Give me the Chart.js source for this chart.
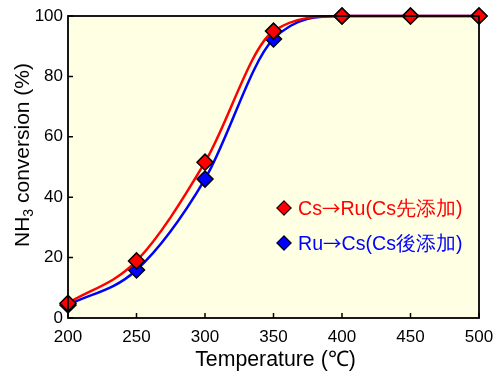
<!DOCTYPE html>
<html><head><meta charset="utf-8">
<script src="https://cdn.jsdelivr.net/npm/chart.js@4.4.0/dist/chart.umd.min.js"></script>
<style>
html,body{margin:0;padding:0;background:#fff;}
#wrap{position:relative;width:497px;height:373px;font-family:"Liberation Sans",Arial,sans-serif;color:#000;}
#c{position:absolute;left:0;top:0;}
.xt{position:absolute;left:70px;width:411px;top:349px;text-align:center;font-size:21.3px;line-height:20px;white-space:nowrap;}
.yt{position:absolute;left:22px;top:155px;transform:translate(-50%,-50%) rotate(-90deg);white-space:nowrap;font-size:21px;line-height:22px;}
.yt sub{font-size:14px;vertical-align:-4px;line-height:0;}
.lgm{position:absolute;width:9px;height:9px;border:1.5px solid #000;transform:translate(-50%,-50%) rotate(45deg);}
.lgt{position:absolute;font-size:19.6px;line-height:22px;white-space:nowrap;}
.ar{font-family:"Noto Sans CJK JP",sans-serif;font-size:18.5px;}
</style>
</head><body>
<div id="wrap">
<canvas id="c" width="497" height="373"></canvas>
<div class="xt">Temperature (℃)</div>
<div class="yt">NH<sub>3</sub> conversion (%)</div>
<div class="lgm" style="left:284px;top:208px;background:#ff0000;"></div>
<div class="lgt" style="left:298px;top:196px;color:#ff0000;">Cs<span class="ar">→</span>Ru(Cs先添加)</div>
<div class="lgm" style="left:284px;top:243px;background:#0000ff;"></div>
<div class="lgt" style="left:298px;top:231px;color:#0000ff;">Ru<span class="ar">→</span>Cs(Cs後添加)</div>
</div>
<script>
const temps = [200, 250, 300, 350, 400, 450, 500];
const csRu = [4.9, 18.9, 51.6, 95, 100, 100, 100];
const ruCs = [4.3, 15.9, 46, 92.4, 100, 100, 100];
const xTicks = [200, 250, 300, 350, 400, 450, 500];
const yTicks = [0, 20, 40, 60, 80, 100];

const toPts = arr => temps.map((t, i) => ({x: t, y: arr[i]}));

const boxPlugin = {
  id: 'box',
  beforeDraw(chart) {
    const {ctx, chartArea: a} = chart;
    ctx.save();
    ctx.fillStyle = '#ffffe4';
    ctx.fillRect(a.left, a.top, a.right - a.left, a.bottom - a.top);
    ctx.restore();
  },
  afterDatasetsDraw(chart) {
    const {ctx, chartArea: a, scales} = chart;
    ctx.save();
    ctx.strokeStyle = '#000';
    ctx.lineWidth = 1.5;
    ctx.beginPath();
    xTicks.forEach(v => {
      const px = scales.x.getPixelForValue(v);
      ctx.moveTo(px, a.bottom); ctx.lineTo(px, a.bottom - 5);
    });
    yTicks.forEach(v => {
      const py = scales.y.getPixelForValue(v);
      ctx.moveTo(a.left, py); ctx.lineTo(a.left + 5, py);
    });
    ctx.stroke();
    ctx.lineWidth = 1.8;
    ctx.strokeRect(a.left, a.top, a.right - a.left, a.bottom - a.top);
    ctx.restore();
  }
};

new Chart(document.getElementById('c'), {
  type: 'line',
  data: {
    datasets: [
      {
        label: 'Cs→Ru(Cs先添加)', data: toPts(csRu),
        borderColor: '#ff0000', backgroundColor: '#ff0000', borderWidth: 2.5,
        cubicInterpolationMode: 'monotone',
        pointStyle: 'rectRot', pointRadius: 8, pointBorderColor: '#000', pointBorderWidth: 1.5,
        pointBackgroundColor: '#ff0000', clip: false
      },
      {
        label: 'Ru→Cs(Cs後添加)', data: toPts(ruCs),
        borderColor: '#0000ff', backgroundColor: '#0000ff', borderWidth: 2.5,
        cubicInterpolationMode: 'monotone',
        pointStyle: 'rectRot', pointRadius: 8, pointBorderColor: '#000', pointBorderWidth: 1.5,
        pointBackgroundColor: '#0000ff', clip: false
      }
    ]
  },
  options: {
    responsive: false, animation: false,
    layout: {padding: {left: 0, right: 18, top: 16, bottom: 0}},
    plugins: {legend: {display: false}, tooltip: {enabled: false}},
    scales: {
      x: {
        type: 'linear', min: 200, max: 500,
        afterBuildTicks: s => { s.ticks = xTicks.map(v => ({value: v})); },
        afterFit: s => { s.height = 55; s.paddingLeft = 0; s.paddingRight = 0; },
        grid: {display: false, drawTicks: false},
        border: {display: false},
        ticks: {color: '#000', font: {family: '"Liberation Sans", Arial, sans-serif', size: 17}, padding: 9, maxRotation: 0}
      },
      y: {
        min: 0, max: 100,
        afterBuildTicks: s => { s.ticks = yTicks.map(v => ({value: v})); },
        afterFit: s => { s.width = 68; s.paddingTop = 0; s.paddingBottom = 0; },
        grid: {display: false, drawTicks: false},
        border: {display: false},
        ticks: {color: '#000', font: {family: '"Liberation Sans", Arial, sans-serif', size: 17}, padding: 5}
      }
    }
  },
  plugins: [boxPlugin]
});
</script>
</body></html>
